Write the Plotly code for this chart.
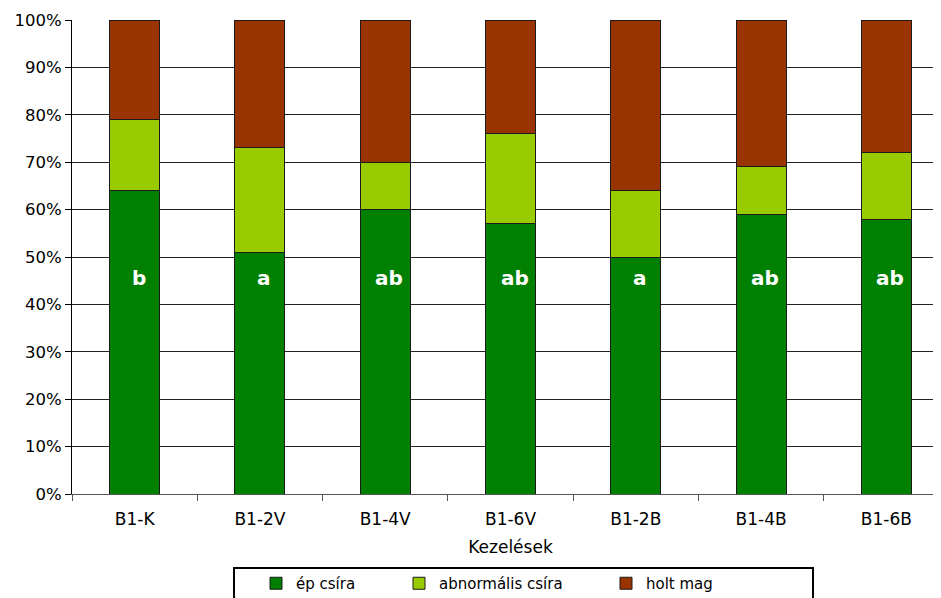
import plotly.graph_objects as go

categories = ["B1-K", "B1-2V", "B1-4V", "B1-6V", "B1-2B", "B1-4B", "B1-6B"]
ep_csira = [64, 51, 60, 57, 50, 59, 58]
abnormalis_csira = [15, 22, 10, 19, 14, 10, 14]
holt_mag = [21, 27, 30, 24, 36, 31, 28]
letters = ["b", "a", "ab", "ab", "a", "ab", "ab"]
y_ticks = [0, 10, 20, 30, 40, 50, 60, 70, 80, 90, 100]
y_tick_labels = ["%d%%" % v for v in y_ticks]

FONT = "DejaVu Sans, Verdana, sans-serif"

# page body has an 8px margin; figure coordinates = window coordinates - 8
W, H = 941, 598
L, T, PH = 64, 12, 474
PW = W - L


def px_x(win_x):
    return (win_x - 8 - L) / PW


def px_y(win_y):
    return -(win_y - 494) / PH


fig = go.Figure()
series = [
    ("ép csíra", ep_csira, "#008000", "legend", 256),
    ("abnormális csíra", abnormalis_csira, "#99CC00", "legend2", 399),
    ("holt mag", holt_mag, "#993300", "legend3", 606),
]
legend_cfg = {}
for name, vals, col, lg, lx in series:
    fig.add_trace(go.Bar(
        x=categories, y=vals, name=name, width=0.4, legend=lg,
        marker=dict(color=col, line=dict(color="#1a1a1a", width=1)),
    ))
    legend_cfg[lg] = dict(orientation="h", x=px_x(lx), xanchor="left",
                          y=px_y(567), yanchor="top",
                          font=dict(family=FONT, size=15, color="black"),
                          bgcolor="rgba(0,0,0,0)")

for c, t in zip(categories, letters):
    fig.add_annotation(x=c, y=45.5, text="<b>%s</b>" % t, showarrow=False,
                       xshift=4, font=dict(family=FONT, size=20, color="white"))

fig.update_layout(
    width=W, height=H, barmode="stack",
    plot_bgcolor="white", paper_bgcolor="white",
    margin=dict(l=L, r=0, t=T, b=H - T - PH),
    font=dict(family=FONT, size=17, color="black"),
    showlegend=True,
    xaxis=dict(range=[-0.5, 6.5], showgrid=False,
               showline=True, linecolor="#555", linewidth=1,
               ticks="outside", tickson="boundaries", ticklen=6, tickcolor="#555",
               tickfont=dict(family=FONT, size=17), fixedrange=True,
               ticklabelstandoff=10,
               title=dict(text="Kezelések", font=dict(family=FONT, size=17), standoff=12)),
    yaxis=dict(range=[0, 100], tickvals=y_ticks, ticktext=y_tick_labels,
               showgrid=True, gridcolor="#222", gridwidth=1,
               showline=True, linecolor="black", linewidth=1,
               ticks="outside", ticklen=6, tickcolor="black",
               tickfont=dict(family=FONT, size=16.5), zeroline=False),
    **legend_cfg,
)
fig.add_shape(type="rect", xref="paper", yref="paper",
              x0=px_x(234), x1=px_x(813),
              y0=px_y(620), y1=px_y(568),
              line=dict(color="black", width=2), fillcolor="rgba(0,0,0,0)")

fig.write_html("out.html")
